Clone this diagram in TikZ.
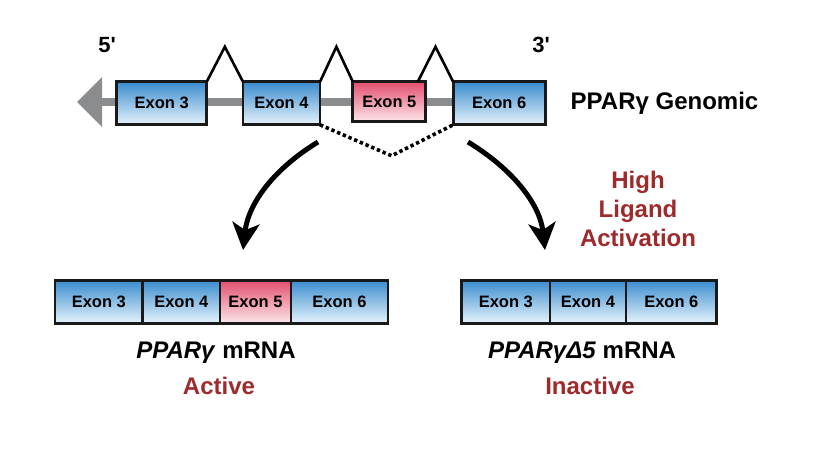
\documentclass[tikz,border=0pt]{standalone}
\usepackage{fontspec}
\setmainfont{Liberation Sans}
\usetikzlibrary{arrows.meta,positioning,calc,backgrounds}
\definecolor{exonblue}{HTML}{3A8CCF}
\definecolor{exonpale}{HTML}{E6F3FB}
\definecolor{skiprose}{HTML}{E24F6D}
\definecolor{skippale}{HTML}{FCE6EA}
\definecolor{ligandred}{HTML}{9E2A2B}
\definecolor{strandgrey}{HTML}{8A8C8E}
\tikzset{
  exon/.style={draw=black!90, line width=2.9pt, minimum height=43pt, inner sep=0pt, outer sep=0pt,
    top color=exonblue, bottom color=exonpale, font=\bfseries\fontsize{16.5}{19}\selectfont},
  skipped/.style={exon, top color=skiprose, bottom color=skippale},
  intron/.style={line width=2.6pt, line join=miter},
  splice/.style={line width=3.6pt, dash pattern=on 3.4pt off 2.8pt},
  strand/.style={line width=7.5pt, strandgrey, -{Triangle[length=25pt,width=48pt]}},
  bigarrow/.style={line width=5pt, -{Stealth[length=27pt,width=27pt,inset=7pt]}},
  endlabel/.style={font=\bfseries\fontsize{22}{25}\selectfont},
  title/.style={font=\bfseries\fontsize{24}{28}\selectfont},
  state/.style={font=\bfseries\fontsize{24}{29}\selectfont, text=ligandred, align=center}
}

\begin{document}
\begin{tikzpicture}[x=1pt, y=-1pt]
  \useasboundingbox (0,0) rectangle (824,460);

  % genomic locus
  \node[exon, minimum width=90pt] (ex3) at (161.7,103.3) {Exon 3};
  \node[exon, minimum width=77pt] (ex4) at (281.5,103.3) {Exon 4};
  \node[skipped, minimum width=73pt, minimum height=40pt] (ex5) at (389.3,101.7) {Exon 5};
  \node[exon, minimum width=92pt] (ex6) at (499.2,103.3) {Exon 6};
  \coordinate (tip) at (77,102);

  \begin{scope}[on background layer]
    \draw[strand] (ex6.west |- 0,102) -- (tip);
  \end{scope}

  \draw[intron] (ex3.north east) -- ($(ex3.north east)!0.5!(ex4.north west)+(0,-35)$) -- (ex4.north west);
  \draw[intron] (ex4.north east) -- ($(ex4.north east)!0.5!(ex5.north west)+(0,-35)$) -- (ex5.north west);
  \draw[intron] ([xshift=-8pt]ex5.north east) -- ($([xshift=-8pt]ex5.north east)!0.5!(ex6.north west)+(0,-35)$) -- (ex6.north west);

  \draw[splice] (ex4.south east) -- ($(ex4.south east)!0.5!(ex6.south west)+(5,31)$) -- (ex6.south west);

  \node[endlabel] (five) at (107,45) {5\textquotesingle};
  \node[endlabel] (three) at (541,45) {3\textquotesingle};
  \node[title, right=22pt of ex6] (genomic) {PPARγ Genomic};

  % splicing outcomes
  \coordinate (lstart) at (318,142);
  \coordinate (lend) at (243,250);
  \coordinate (rstart) at (468,142);
  \coordinate (rend) at (545,250);
  \draw[bigarrow] (lstart) .. controls (272,170) and (248,205) .. (lend);
  \draw[bigarrow] (rstart) .. controls (514,170) and (540,205) .. (rend);

  \node[state] (ligand) at (638,209) {High\\Ligand\\Activation};

  % full-length transcript
  \node[exon, minimum width=87.7pt] (m3) at (98.8,301.7) {Exon 3};
  \node[exon, minimum width=77.3pt, right=0pt of m3] (m4) {Exon 4};
  \node[skipped, minimum width=71pt, right=0pt of m4] (m5) {Exon 5};
  \node[exon, minimum width=97pt, right=0pt of m5] (m6) {Exon 6};

  \node[title] (fulllab) at (216,353) {\textit{PPARγ} mRNA};
  \node[state] (active) at (219,386) {Active};

  % exon 5 skipped transcript
  \node[exon, minimum width=88.3pt] (d3) at (505.8,301.7) {Exon 3};
  \node[exon, minimum width=76pt, right=0pt of d3] (d4) {Exon 4};
  \node[exon, minimum width=90.7pt, right=0pt of d4] (d6) {Exon 6};

  \node[title] (skiplab) at (582,353) {\textit{PPARγΔ5} mRNA};
  \node[state] (inactive) at (590,386) {Inactive};
\end{tikzpicture}
\end{document}
